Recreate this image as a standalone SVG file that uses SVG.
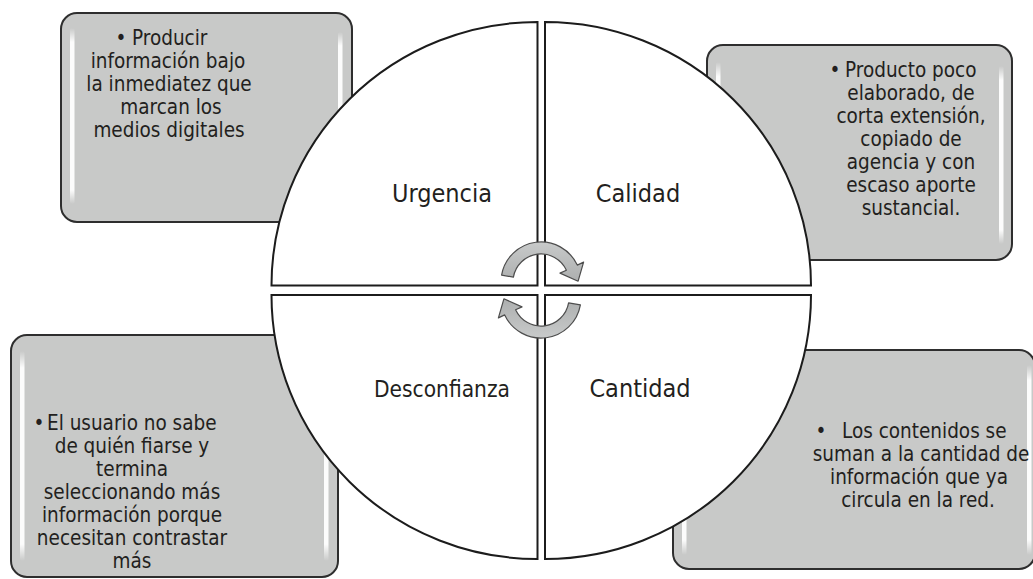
<svg xmlns="http://www.w3.org/2000/svg" width="1033" height="579" viewBox="0 0 1033 579">
<defs>
<linearGradient id="hl" x1="0" y1="0" x2="0" y2="1">
<stop offset="0" stop-color="#ffffff" stop-opacity="0"/>
<stop offset="0.08" stop-color="#ffffff" stop-opacity="0.95"/>
<stop offset="0.92" stop-color="#ffffff" stop-opacity="0.95"/>
<stop offset="1" stop-color="#ffffff" stop-opacity="0"/>
</linearGradient>
<linearGradient id="arrowFill" x1="0" y1="0" x2="0" y2="1">
<stop offset="0" stop-color="#c8caca"/>
<stop offset="1" stop-color="#adafaf"/>
</linearGradient>
</defs>
<style>
.box{fill:#c8c9c8;stroke:#2e2e2e;stroke-width:2}
.hl{fill:url(#hl)}
.quad{fill:#ffffff;stroke:#1c1c1c;stroke-width:2;stroke-linejoin:miter}
.t{font-family:"DejaVu Sans Condensed","DejaVu Sans",sans-serif;font-size:20.5px;fill:#231f20}
.c{text-anchor:middle}
.lbl{font-family:"DejaVu Sans Condensed","DejaVu Sans",sans-serif;font-size:25px;fill:#231f20;text-anchor:middle}
.arrow{fill:url(#arrowFill);stroke:#4d4d4d;stroke-width:1.2;stroke-linejoin:round}
</style>

<g id="box-urgencia">
<rect class="box" x="61" y="13" width="291" height="209" rx="16"/>
<rect class="hl" x="70" y="28" width="4.5" height="176" rx="2"/>
<rect class="hl" x="338" y="32" width="4.5" height="172" rx="2"/>
<text class="t c" x="121" y="45">•</text>
<text class="t" x="132" y="45">Producir</text>
<text class="t c" x="168" y="68">información bajo</text>
<text class="t c" x="169" y="91">la inmediatez que</text>
<text class="t c" x="171" y="114">marcan los</text>
<text class="t c" x="169" y="137">medios digitales</text>
</g>

<g id="box-calidad">
<rect class="box" x="707" y="45" width="305" height="215" rx="16"/>
<rect class="hl" x="716" y="62" width="4.5" height="183" rx="2"/>
<rect class="hl" x="999" y="66" width="4.5" height="178" rx="2"/>
<text class="t c" x="835" y="77">•</text>
<text class="t" x="845" y="77">Producto poco</text>
<text class="t c" x="911" y="100">elaborado, de</text>
<text class="t c" x="911" y="123">corta extensión,</text>
<text class="t c" x="911" y="146">copiado de</text>
<text class="t c" x="911" y="169">agencia y con</text>
<text class="t c" x="911" y="192">escaso aporte</text>
<text class="t c" x="911" y="215">sustancial.</text>
</g>

<g id="box-desconfianza">
<rect class="box" x="11" y="335" width="327" height="242" rx="16"/>
<rect class="hl" x="20" y="351" width="4.5" height="210" rx="2"/>
<rect class="hl" x="324" y="351" width="4.5" height="210" rx="2"/>
<text class="t c" x="39" y="430">•</text>
<text class="t" x="47" y="430">El usuario no sabe</text>
<text class="t c" x="132" y="453">de quién fiarse y</text>
<text class="t c" x="132" y="476">termina</text>
<text class="t c" x="132" y="499">seleccionando más</text>
<text class="t c" x="132" y="522">información porque</text>
<text class="t c" x="132" y="545">necesitan contrastar</text>
<text class="t c" x="132" y="568">más</text>
</g>

<g id="box-cantidad">
<rect class="box" x="673" y="350" width="362" height="219" rx="16"/>
<rect class="hl" x="682" y="365" width="4.5" height="190" rx="2"/>
<rect class="hl" x="1027" y="365" width="4.5" height="190" rx="2"/>
<text class="t c" x="821" y="438">•</text>
<text class="t" x="842" y="438">Los contenidos se</text>
<text class="t c" x="921" y="461">suman a la cantidad de</text>
<text class="t c" x="919" y="484">información que ya</text>
<text class="t c" x="918" y="507">circula en la red.</text>
</g>

<g id="quad-urgencia">
<path class="quad" d="M537.5,285.5 H271.5 A266,263.5 0 0 1 537.5,22 Z"/>
<text class="lbl" x="442" y="202">Urgencia</text>
</g>
<g id="quad-calidad">
<path class="quad" d="M545,285.5 V22 A266,263.5 0 0 1 811,285.5 Z"/>
<text class="lbl" x="638" y="202">Calidad</text>
</g>
<g id="quad-cantidad">
<path class="quad" d="M545,295 H811 A266,264 0 0 1 545,559 Z"/>
<text class="lbl" x="640" y="397">Cantidad</text>
</g>
<g id="quad-desconfianza">
<path class="quad" d="M537.5,295 V559 A266,264 0 0 1 271.5,295 Z"/>
<text class="lbl" x="442" y="397" style="font-size:22.5px">Desconfianza</text>
</g>

<g id="connectors">
<path id="cycle-top" class="arrow" d="M501.6,275.1 A40,40 0 0 1 577.3,265.1 L583.6,262.1 L578.1,281.2 L560.0,273.1 L566.4,270.2 A28,28 0 0 0 513.4,277.1 Z"/>
<path id="cycle-bottom" class="arrow" transform="rotate(180 541 290)" d="M501.6,275.1 A40,40 0 0 1 577.3,265.1 L583.6,262.1 L578.1,281.2 L560.0,273.1 L566.4,270.2 A28,28 0 0 0 513.4,277.1 Z"/>
</g>
</svg>
